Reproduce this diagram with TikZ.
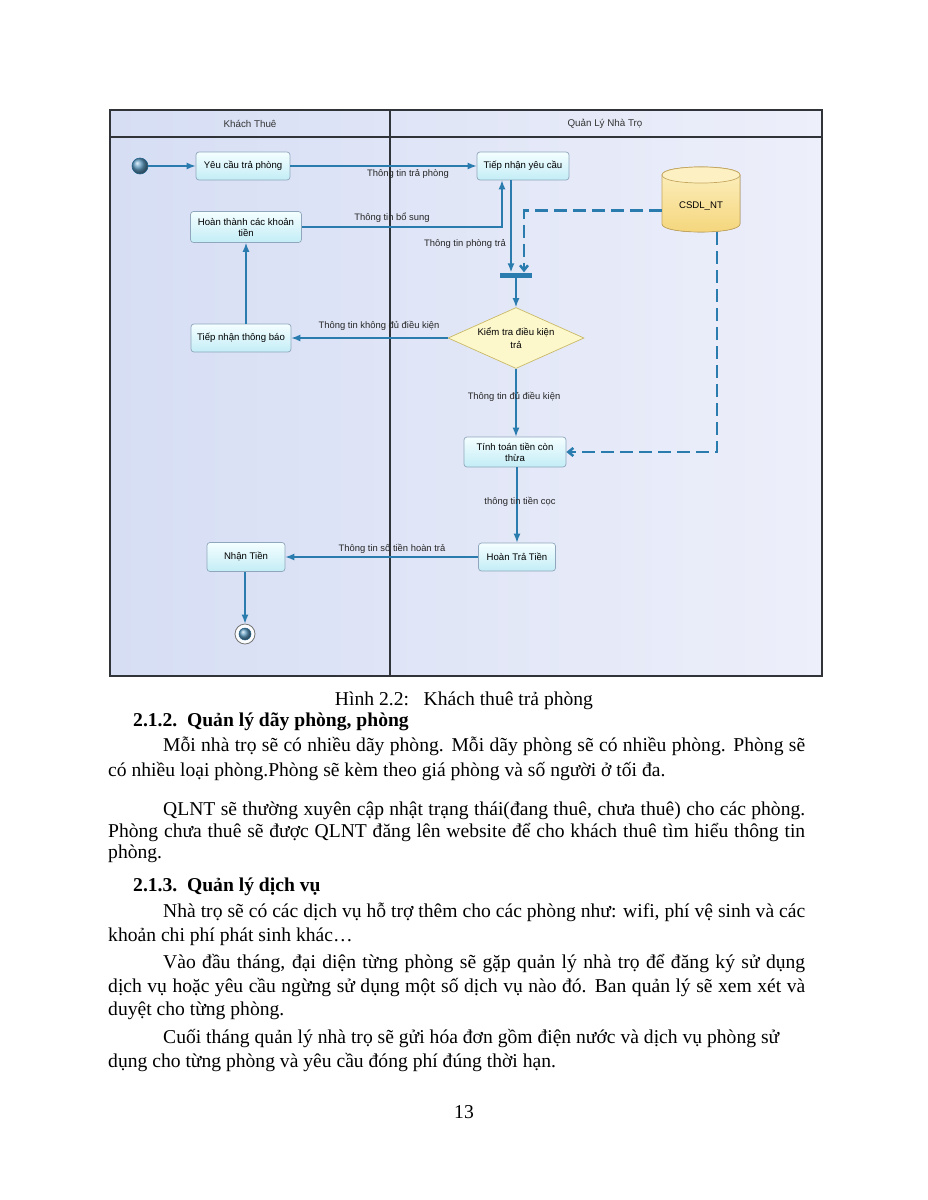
\documentclass[tikz,border=0pt]{standalone}
\usepackage{fontspec}
\setmainfont{Liberation Serif}
\newfontfamily\diafont{Liberation Sans}
\usetikzlibrary{arrows.meta,shapes.geometric}
\definecolor{flow}{HTML}{2A7BAE}
\definecolor{boxfillA}{HTML}{F4FEFF}
\definecolor{boxfillB}{HTML}{C3EDF6}
\definecolor{boxline}{HTML}{8FA6BC}
\definecolor{lanebgA}{HTML}{D6DEF4}
\definecolor{lanebgB}{HTML}{EDEFFA}
\definecolor{dbA}{HTML}{FDF1C4}
\definecolor{dbB}{HTML}{F4D57A}
\definecolor{dbline}{HTML}{C4A65E}
\definecolor{diafill}{HTML}{FDF8CC}
\definecolor{dialine}{HTML}{C9B967}
\definecolor{frame}{HTML}{303438}
\tikzset{
  act/.style={draw=boxline, rounded corners=3pt, top color=boxfillA, bottom color=boxfillB,
    font=\diafont\fontsize{9.6}{11}\selectfont, align=center, inner sep=2pt, line width=0.7pt},
  flowline/.style={draw=flow, line width=1.4pt, -{Latex[length=9pt,width=7pt]}},
  dataline/.style={draw=flow, line width=2.5pt, dash pattern=on 13pt off 6pt},
  lbl/.style={font=\diafont\fontsize{9.4}{10}\selectfont, text=black!85, inner sep=1pt},
  lanehead/.style={font=\diafont\fontsize{9.8}{10}\selectfont, text=black!80, inner sep=0pt},
  body/.style={font=\fontsize{19.6}{22}\selectfont, inner sep=0pt, anchor=base west},
  head/.style={font=\fontsize{19.6}{22}\selectfont\bfseries, inner sep=0pt, anchor=base west}
}
\begin{document}
\begin{tikzpicture}[x=1pt,y=-1pt]
\useasboundingbox (0,0) rectangle (927,1200);
\fill[white] (0,0) rectangle (927,1200);
% swimlane frame
\fill[left color=lanebgA, right color=lanebgB] (110,110) rectangle (822,676);
\draw[frame, line width=1.1pt] (110,110) rectangle (822,676);
\draw[frame, line width=1.1pt] (110,137) -- (822,137);
\draw[frame, line width=1.1pt] (390,110) -- (390,676);
\node[lanehead] (lane1) at (250,124) {Khách Thuê};
\node[lanehead] (lane2) at (605,124) {Quản Lý Nhà Trọ};

% nodes
\node[circle, minimum size=16pt, inner sep=0pt, draw=flow!80!black, ball color=flow!75, line width=0.6pt] (start) at (140,166) {};
\node[act, minimum width=94pt, minimum height=28pt] (a1) at (243,166) {Yêu cầu trả phòng};
\node[act, minimum width=92pt, minimum height=28pt] (a2) at (523,166) {Tiếp nhận yêu cầu};
\node[act, minimum width=111pt, minimum height=31pt] (a3) at (246,227) {Hoàn thành các khoản\\tiền};
\node[act, minimum width=100pt, minimum height=28pt] (a4) at (241,338) {Tiếp nhận thông báo};
\node[rectangle, fill=flow, minimum width=32pt, minimum height=5pt, inner sep=0pt] (fork) at (516,275) {};
\node[diamond, draw=dialine, fill=diafill, line width=0.7pt, minimum width=136pt, minimum height=61pt,
  shape aspect=2.23, inner sep=0pt, align=center, font=\diafont\fontsize{9.6}{12.5}\selectfont] (dia) at (516,338) {Kiểm tra điều kiện\\trả};
\node[act, minimum width=102pt, minimum height=30pt] (calc) at (515,452) {Tính toán tiền còn\\thừa};
\node[act, minimum width=77pt, minimum height=28pt] (ret) at (517,557) {Hoàn Trả Tiền};
\node[act, minimum width=78pt, minimum height=29pt] (recv) at (246,557) {Nhận Tiền};
\node[circle, minimum size=20pt, inner sep=0pt, draw=black!55, fill=white!90!lanebgA, line width=0.8pt] (end) at (245,634) {};
\node[circle, minimum size=12pt, inner sep=0pt, ball color=flow!75, draw=flow!80!black, line width=0.5pt] (endin) at (end.center) {};

% database cylinder
\node[minimum width=78pt, minimum height=65pt, inner sep=0pt] (db) at (701,199.5) {};
\filldraw[draw=dbline, top color=dbA, bottom color=dbB, line width=0.7pt]
  (662,175) -- (662,224) .. controls (662,234.7) and (740,234.7) .. (740,224) -- (740,175)
  .. controls (740,164.3) and (662,164.3) .. (662,175) -- cycle;
\filldraw[draw=dbline, fill=dbA, line width=0.7pt]
  (662,175) .. controls (662,164.3) and (740,164.3) .. (740,175)
  .. controls (740,185.7) and (662,185.7) .. (662,175) -- cycle;
\node[font=\diafont\fontsize{9.6}{10}\selectfont, inner sep=0pt] (dblabel) at (701,206) {CSDL\_NT};

% flows
\draw[flowline] (start) -- (a1);
\draw[flowline] (a1) -- (a2);
\draw[flowline] (a3.east) -| ([xshift=-21pt]a2.south);
\draw[flowline] ([xshift=-12pt]a2.south) -- ([xshift=-5pt]fork.north);
\draw[flowline] (fork) -- (dia.north);
\draw[flowline] (dia.west) -- (a4.east);
\draw[flowline] (a4.north -| a3.south) -- (a3.south);
\draw[flowline] (dia.south) -- (calc.north -| dia.south);
\draw[flowline] (calc.south -| ret.north) -- (ret.north);
\draw[flowline] (ret.west) -- (recv.east);
\draw[flowline] (recv.south -| end.north) -- (end.north);

% data flows
\draw[dataline, -{Straight Barb[length=5pt,width=8pt]}] ([yshift=-11pt]db.west) -| ([xshift=8pt]fork.north);
\draw[dataline, -{Straight Barb[length=5pt,width=8pt]}] ([xshift=16pt]db.south) |- (calc.east);

% labels
\node[lbl] (l1) at (408,174) {Thông tin trả phòng};
\node[lbl] (l2) at (392,218) {Thông tin bổ sung};
\node[lbl] (l3) at (465,244) {Thông tin phòng trả};
\node[lbl] (l4) at (379,326) {Thông tin không đủ điều kiện};
\node[lbl] (l5) at (514,397) {Thông tin đủ điều kiện};
\node[lbl] (l6) at (520,502) {thông tin tiền cọc};
\node[lbl] (l7) at (392,549) {Thông tin số tiền hoàn trả};

% page text
\node[font=\fontsize{19.6}{22}\selectfont, inner sep=0pt, anchor=base] (cap) at (464,705) {Hình 2.2:\ \ \ Khách thuê trả phòng};
\node[head] (h1) at (133,726) {2.1.2.\ \ Quản lý dãy phòng, phòng};
\node[body] (p1a) at (163,751) {\makebox[642pt][s]{Mỗi nhà trọ sẽ có nhiều dãy phòng. Mỗi dãy phòng sẽ có nhiều phòng. Phòng sẽ}};
\node[body] (p1b) at (108,776) {có nhiều loại phòng.Phòng sẽ kèm theo giá phòng và số người ở tối đa.};
\node[body] (p2a) at (163,815) {\makebox[642pt][s]{QLNT sẽ thường xuyên cập nhật trạng thái(đang thuê, chưa thuê) cho các phòng.}};
\node[body] (p2b) at (108,837) {\makebox[697pt][s]{Phòng chưa thuê sẽ được QLNT đăng lên website để cho khách thuê tìm hiểu thông tin}};
\node[body] (p2c) at (108,858) {phòng.};
\node[head] (h2) at (133,891) {2.1.3.\ \ Quản lý dịch vụ};
\node[body] (p3a) at (163,917) {\makebox[642pt][s]{Nhà trọ sẽ có các dịch vụ hỗ trợ thêm cho các phòng như: wifi, phí vệ sinh và các}};
\node[body] (p3b) at (108,941) {khoản chi phí phát sinh khác…};
\node[body] (p4a) at (163,968) {\makebox[642pt][s]{Vào đầu tháng, đại diện từng phòng sẽ gặp quản lý nhà trọ để đăng ký sử dụng}};
\node[body] (p4b) at (108,992) {\makebox[697pt][s]{dịch vụ hoặc yêu cầu ngừng sử dụng một số dịch vụ nào đó. Ban quản lý sẽ xem xét và}};
\node[body] (p4c) at (108,1015) {duyệt cho từng phòng.};
\node[body] (p5a) at (163,1043) {Cuối tháng quản lý nhà trọ sẽ gửi hóa đơn gồm điện nước và dịch vụ phòng sử};
\node[body] (p5b) at (108,1067) {dụng cho từng phòng và yêu cầu đóng phí đúng thời hạn.};
\node[font=\fontsize{19.6}{22}\selectfont, inner sep=0pt, anchor=base] (pg) at (464,1118) {13};
\end{tikzpicture}
\end{document}
